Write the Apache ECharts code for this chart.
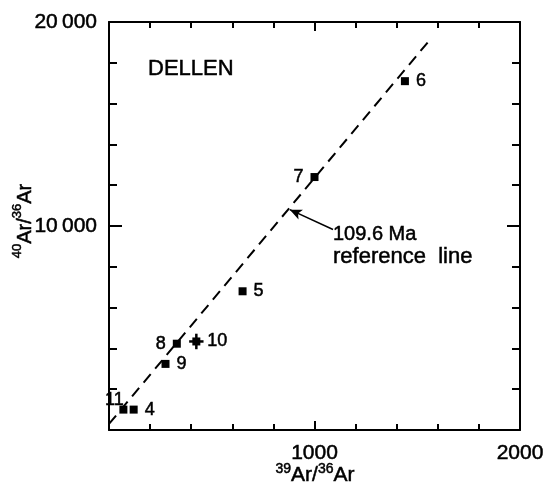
<!DOCTYPE html>
<html>
<head>
<meta charset="utf-8">
<script src="https://cdn.jsdelivr.net/npm/echarts@6/dist/echarts.min.js"></script>
<style>
  html, body { margin: 0; padding: 0; background: #fff; }
  #chart { width: 549px; height: 487px; }
</style>
</head>
<body>
<div id="chart"></div>
<script>
// 各样品点（编号、39Ar/36Ar、40Ar/36Ar）
const pointNames = ['6', '7', '5', '8', '10', '9', '11', '4'];
const ratio39 = [1440, 1000, 650, 330, 425, 275, 70, 120];
const ratio40 = [17100, 12400, 6800, 4230, 4340, 3240, 1000, 1000];
const err39 = [0, 0, 0, 0, 35, 0, 0, 0];
const err40 = [0, 0, 0, 0, 380, 0, 0, 0];

// 109.6 Ma 参考线两端
const refLineX = [0, 1570];
const refLineY = [295, 19230];

// 注释箭头（从文字指向参考线）
const arrowX = [1090, 880];
const arrowY = [9830, 10800];

const xTicks = [0, 1000, 2000];
const yTicks = [0, 10000, 20000];

const FONT = '"Liberation Sans", Arial, sans-serif';
// 扫描图的字比较粗，加一点描边（echarts 标签用 textBorder，graphic 用 stroke）
const thick = { textBorderColor: '#000', textBorderWidth: 0.5 };
const thickG = { stroke: '#000', lineWidth: 0.5 };

const chart = echarts.init(document.getElementById('chart'));

// 标签方向
const labelSide = {
  '7': { position: 'left' },
  '8': { position: 'left' },
  '11': { position: 'top', offset: [-9, 10] }
};

const fmtY = v => (v === 0 ? '' : String(v).replace(/(\d)(\d{3})$/, '$1\u2009$2'));
const fmtX = v => (v === 0 ? '' : String(v));

const baseX = {
  type: 'value',
  min: xTicks[0],
  max: xTicks[xTicks.length - 1],
  interval: 1000,
  splitLine: { show: false },
  axisLine: { onZero: false, lineStyle: { color: '#000', width: 2 } },
  axisTick: { inside: true, length: 9, lineStyle: { color: '#000', width: 2 } },
  minorTick: { show: true, splitNumber: 5, length: 6, lineStyle: { color: '#000', width: 2 } }
};
const baseY = {
  type: 'value',
  min: yTicks[0],
  max: yTicks[yTicks.length - 1],
  interval: 10000,
  splitLine: { show: false },
  axisLine: { onZero: false, lineStyle: { color: '#000', width: 2 } },
  axisTick: { inside: true, length: 13, lineStyle: { color: '#000', width: 2 } },
  minorTick: { show: true, splitNumber: 5, length: 8, lineStyle: { color: '#000', width: 2 } }
};

const points = pointNames.map((n, i) => ({
  name: n,
  value: [ratio39[i], ratio40[i]],
  label: labelSide[n] || { position: 'right' }
}));

const supRich = (main, sup) => ({
  s: Object.assign({ fontSize: sup, fontFamily: FONT, fill: '#000', verticalAlign: 'top', lineHeight: 24 }, thickG),
  m: Object.assign({ fontSize: main, fontFamily: FONT, fill: '#000', verticalAlign: 'bottom', lineHeight: 24 }, thickG)
});

const option = {
  animation: false,
  backgroundColor: '#fff',
  textStyle: { fontFamily: FONT },
  grid: { left: 109, right: 29, top: 22, bottom: 57 },
  xAxis: [
    Object.assign({}, baseX, {
      position: 'bottom',
      axisLabel: Object.assign({ formatter: fmtX, color: '#000', fontSize: 21, margin: 13, fontFamily: FONT }, thick)
    }),
    Object.assign({}, baseX, { position: 'top', axisLabel: { show: false } })
  ],
  yAxis: [
    Object.assign({}, baseY, {
      position: 'left',
      axisLabel: Object.assign({ formatter: fmtY, color: '#000', fontSize: 21, margin: 12, fontFamily: FONT }, thick)
    }),
    Object.assign({}, baseY, { position: 'right', axisLabel: { show: false } })
  ],
  graphic: [
    {
      type: 'text', x: 148, y: 69,
      style: Object.assign({ text: 'DELLEN', font: '22px ' + FONT, fill: '#000', verticalAlign: 'middle' }, thickG)
    },
    {
      type: 'text', x: 333, y: 234,
      style: Object.assign({ text: '109.6 Ma', font: '20px ' + FONT, fill: '#000', verticalAlign: 'middle' }, thickG)
    },
    {
      type: 'text', x: 333, y: 257,
      style: Object.assign({ text: 'reference  line', font: '22px ' + FONT, fill: '#000', verticalAlign: 'middle' }, thickG)
    },
    {
      type: 'text', x: 315, y: 474,
      style: {
        text: '{s|39}{m|Ar/}{s|36}{m|Ar}',
        align: 'center', verticalAlign: 'middle',
        rich: supRich(21, 14)
      }
    },
    {
      type: 'text', x: 23, y: 221, rotation: Math.PI / 2,
      style: {
        text: '{s|40}{m|Ar/}{s|36}{m|Ar}',
        align: 'center', verticalAlign: 'middle',
        rich: supRich(20, 13)
      }
    }
  ],
  series: [
    {
      type: 'line',
      data: refLineX.map((x, i) => [x, refLineY[i]]),
      symbol: 'none',
      lineStyle: { color: '#000', width: 2, type: [11, 7] },
      z: 2,
      // 注释箭头
      markLine: {
        silent: true,
        symbol: ['none', 'arrow'],
        symbolSize: [8, 12],
        label: { show: false },
        lineStyle: { color: '#000', width: 1.5, type: 'solid' },
        data: [[
          { coord: [arrowX[0], arrowY[0]] },
          { coord: [arrowX[1], arrowY[1]] }
        ]]
      }
    },
    {
      type: 'custom',
      data: pointNames.map((n, i) => [ratio39[i], ratio40[i], err39[i], err40[i]]),
      renderItem: (params, api) => {
        const x = api.value(0), y = api.value(1), ex = api.value(2), ey = api.value(3);
        if (!ex && !ey) return null;
        const l = api.coord([x - ex, y]), r = api.coord([x + ex, y]);
        const t = api.coord([x, y + ey]), b = api.coord([x, y - ey]);
        const st = { stroke: '#000', lineWidth: 2.5 };
        return {
          type: 'group',
          children: [
            { type: 'line', shape: { x1: l[0], y1: l[1], x2: r[0], y2: r[1] }, style: st },
            { type: 'line', shape: { x1: t[0], y1: t[1], x2: b[0], y2: b[1] }, style: st }
          ]
        };
      },
      z: 4
    },
    {
      type: 'scatter',
      data: points,
      symbol: 'rect',
      symbolSize: 8,
      itemStyle: { color: '#000', opacity: 1 },
      label: Object.assign({
        show: true,
        formatter: '{b}',
        color: '#000',
        fontSize: 18,
        fontFamily: FONT,
        distance: 7
      }, thick),
      z: 5
    }
  ]
};

chart.setOption(option);
</script>
</body>
</html>
